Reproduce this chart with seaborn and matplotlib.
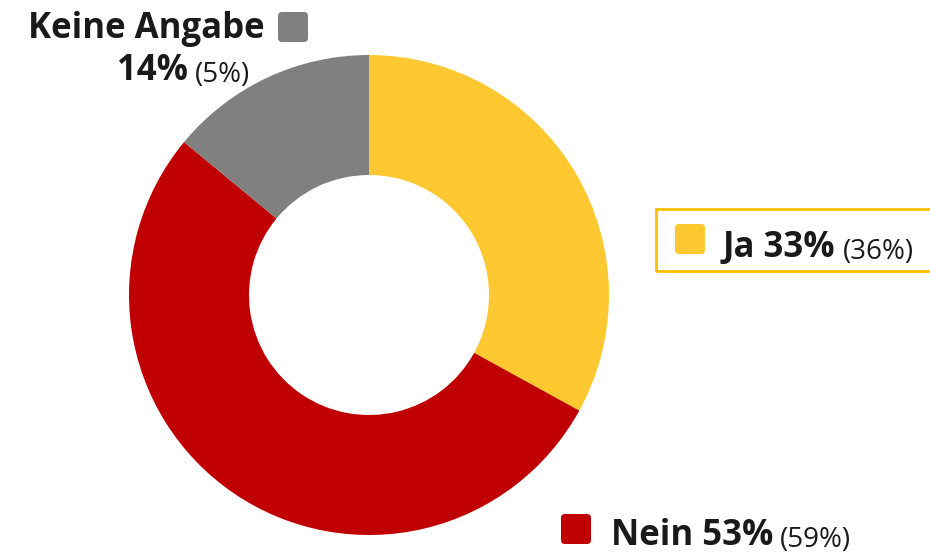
import matplotlib.pyplot as plt
import seaborn as sns
from matplotlib.patches import FancyBboxPatch, Rectangle

# data
labels = ["Ja", "Nein", "Keine Angabe"]
shares = [33, 53, 14]
shares_alt = [36, 59, 5]
colors = ["#FDC830", "#C00000", "#808080"]

sns.set_theme(style="white")
plt.rcParams["font.family"] = ["Open Sans", "DejaVu Sans"]

fig = plt.figure(figsize=(9.3, 5.53), dpi=100)
ax = fig.add_axes([0, 0, 1, 1])

ax.pie(shares, colors=colors, startangle=90, counterclock=False,
       center=(369, 258), radius=240, frame=True,
       wedgeprops=dict(width=120, edgecolor="none"))
ax.set_xlim(0, 930)
ax.set_ylim(0, 553)
ax.set_aspect("equal")
ax.axis("off")

txt = "#1a1a1a"
big = 25
small = 20


def swatch(x, y, color):
    ax.add_patch(FancyBboxPatch((x + 3, y + 3), 24, 24,
                                boxstyle="round,pad=3,rounding_size=4",
                                fc=color, ec="none"))


def label(x, y, name, pct, alt):
    t1 = ax.text(x, y, f"{name} {pct}%", fontsize=big, fontweight="bold",
                 color=txt, ha="left", va="baseline")
    ax.annotate(f"({alt}%)", xy=(1, 0), xycoords=t1, xytext=(5, 0),
                textcoords="offset points", fontsize=small, color=txt,
                va="bottom", ha="left")


# Ja (boxed)
ax.add_patch(Rectangle((656, 553 - 271), 290, 62, fill=False,
                       ec="#FFC000", lw=2))
swatch(675, 553 - 254, colors[0])
label(723, 553 - 257, labels[0], shares[0], shares_alt[0])

# Nein
swatch(561, 553 - 544, colors[1])
label(611, 553 - 545, labels[1], shares[1], shares_alt[1])

# Keine Angabe
ax.text(265, 553 - 38, labels[2], fontsize=big, fontweight="bold",
        color=txt, ha="right", va="baseline")
swatch(278, 553 - 42, colors[2])
t = ax.text(250, 553 - 82, f"({shares_alt[2]}%)", fontsize=small,
            color=txt, ha="right", va="baseline")
ax.annotate(f"{shares[2]}%", xy=(0, 0), xycoords=t, xytext=(-5, 0),
            textcoords="offset points", fontsize=big, fontweight="bold",
            color=txt, va="bottom", ha="right")

fig.savefig("out.png", dpi=100)
